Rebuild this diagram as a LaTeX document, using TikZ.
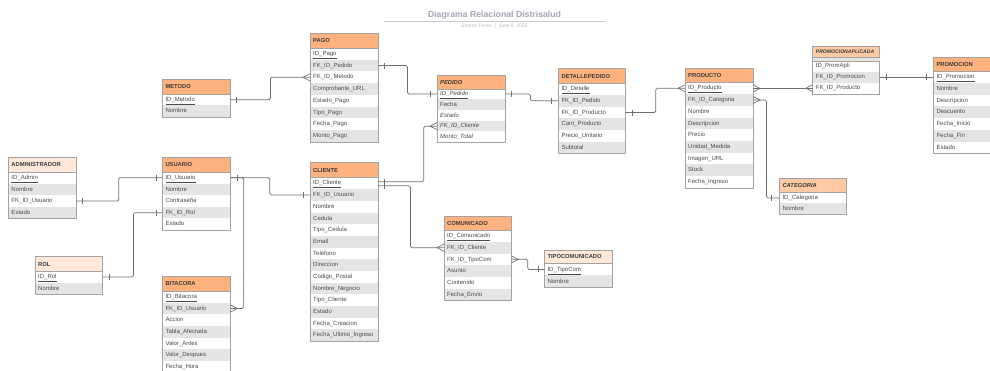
\documentclass[tikz,border=0pt]{standalone}
\usepackage{fontspec}
\setmainfont{Liberation Sans}
\definecolor{hdrorange}{HTML}{FFB27E}
\definecolor{hdrpale}{HTML}{FFE8D9}
\definecolor{hdrpeach}{HTML}{FFC9A3}
\definecolor{rowgray}{HTML}{E4E4E4}
\definecolor{bordergray}{HTML}{A3A3A3}
\definecolor{linegray}{HTML}{707070}
\definecolor{txtdark}{HTML}{3A3A3A}
\definecolor{txtrow}{HTML}{4A4A4A}
\definecolor{titlegray}{HTML}{A4A7B2}
\definecolor{subgray}{HTML}{B8B8B8}

\tikzset{
  hdr/.style={draw=none, fill=hdrorange, inner xsep=3pt, inner ysep=0pt, text=txtdark,
    font=\fontsize{5.8}{6.5}\selectfont\bfseries, text height=4.3pt, text depth=0.4pt},
  rowbox/.style={draw=none, inner xsep=3pt, inner ysep=0pt, text=txtrow,
    font=\fontsize{6}{7}\selectfont, text height=4.5pt, text depth=1.2pt},
  tableline/.style={draw=bordergray, line width=0.6pt},
  rel/.style={draw=linegray, line width=0.75pt, rounded corners=1.5pt},
  relmark/.style={draw=linegray, line width=0.7pt},
  titletext/.style={text=titlegray, font=\fontsize{8.7}{10}\selectfont\bfseries, inner sep=0pt},
  subtext/.style={text=subgray, font=\fontsize{5}{6}\selectfont, inner sep=0pt},
}

% \erTable{name}{x}{y}{width}{header height}{row height}{header style}{header text}{rows}
\newcommand{\erTable}[9]{%
  \pgfmathsetmacro\erTW{#4-6}%
  \node[hdr,#7,minimum width=#4,minimum height=#5,text width=\erTW pt,anchor=north west] (#1) at (#2,#3) {#8};
  \foreach \txt [count=\i] in {#9} {%
    \pgfmathsetmacro\rowy{#3+#5+(\i-1)*#6}%
    \ifodd\i\relax\def\rowfill{white}\else\def\rowfill{rowgray}\fi
    \node[rowbox,fill=\rowfill,minimum width=#4,minimum height=#6,text width=\erTW pt,anchor=north west] (#1-\i) at (#2,\rowy) {\txt};
    \xdef\lastrow{\i}%
  }%
  \draw[tableline] (#1.south west) -- (#1.south east);
  \draw[tableline] (#1.north west) rectangle (#1-\lastrow.south east);
}
% single bar across a connector, #2 = horizontal offset from the anchor
\newcommand{\barAt}[2]{\draw[relmark] ([xshift=#2,yshift=3]#1) -- ([xshift=#2,yshift=-3]#1);}
% crow's foot touching the anchor, #2 = offset of its apex
\newcommand{\crowAt}[2]{\draw[relmark] ([yshift=3.5]#1) -- ([xshift=#2]#1) -- ([yshift=-3.5]#1);}

\begin{document}
\begin{tikzpicture}[x=1pt,y=-1pt]
\useasboundingbox (0,0) rectangle (990,371);
\clip (0,0) rectangle (990,371);
\fill[white] (0,0) rectangle (990,371);

% title block
\node[titletext] (title) at (494.5,15) {Diagrama Relacional Distrisalud};
\draw[draw=titlegray!60, line width=0.6pt] (384,21.3) -- (605,21.3);
\node[subtext] (subtitle) at (494.5,26.7) {Sharon Perez \ | \ June 9, 2025};

% tables
\erTable{metodo}{162.3}{79}{67.7}{15}{11.3}{}{METODO}
  {\underline{ID\_Metodo}, Nombre}

\erTable{pago}{310}{33}{68}{14.7}{11.75}{}{PAGO}
  {\underline{ID\_Pago}, FK\_ID\_Pedido, FK\_ID\_Metodo, Comprobante\_URL, Estado\_Pago, Tipo\_Pago, Fecha\_Pago, Monto\_Pago}

\erTable{pedido}{437}{75.5}{68}{13}{10.7}{}{\textit{PEDIDO}}
  {\underline{\textit{ID\_Pedido}}, Fecha, \textit{Estado}, \textit{FK\_ID\_Cliente}, \textit{Monto\_Total}}

\erTable{detalle}{558.3}{68.7}{67}{14.4}{11.7}{}{DETALLEPEDIDO}
  {\underline{ID\_Detalle}, FK\_ID\_Pedido, FK\_ID\_Producto, Cant\_Producto, Precio\_Unitario, Subtotal}

\erTable{producto}{685}{68.3}{67.7}{14}{11.7}{}{PRODUCTO}
  {\underline{ID\_Producto}, FK\_ID\_Categoria, Nombre, Descripcion, Precio, Unidad\_Medida, Imagen\_URL, Stock, Fecha\_Ingreso}

\erTable{promoapli}{812.7}{46.5}{66.6}{14}{11}{fill=hdrpeach,font=\fontsize{5.1}{6}\selectfont\bfseries\itshape}{\raisebox{2pt}{PROMOCIONAPLICADA}}
  {ID\_PromApli, FK\_ID\_Promocion, FK\_ID\_Producto}
\fill[rowgray] ([yshift=4]promoapli.south west) rectangle (promoapli.south east);
\draw[tableline] ([yshift=4]promoapli.south west) -- ([yshift=4]promoapli.south east);

\erTable{promocion}{933.3}{57.7}{67}{13.5}{11.7}{}{PROMOCION}
  {\underline{ID\_Promocion}, Nombre, Descripcion, Descuento, Fecha\_Inicio, Fecha\_Fin, Estado}

\erTable{admin}{8.3}{157.3}{67.4}{14.4}{11.65}{fill=hdrpale}{ADMINISTRADOR}
  {\underline{ID\_Admin}, Nombre, FK\_ID\_Usuario, Estado}

\erTable{usuario}{162.3}{157.3}{67.7}{14.4}{11.65}{}{USUARIO}
  {\underline{ID\_Usuario}, Nombre, Contraseña, FK\_ID\_Rol, Estado}

\erTable{rol}{35}{256.7}{67.3}{14.3}{11.5}{fill=hdrpale}{ROL}
  {\underline{ID\_Rol}, Nombre}

\erTable{bitacora}{162.3}{276.7}{67.7}{14}{11.7}{}{BITACORA}
  {\underline{ID\_Bitacora}, FK\_ID\_Usuario, Accion, Tabla\_Afectada, Valor\_Antes, Valor\_Despues, Fecha\_Hora}

\erTable{cliente}{310}{162.7}{67.7}{14.6}{11.69}{}{CLIENTE}
  {\underline{ID\_Cliente}, FK\_ID\_Usuario, Nombre, Cedula, Tipo\_Cedula, Email, Telefono, Direccion, Codigo\_Postal, Nombre\_Negocio, Tipo\_Cliente, Estado, Fecha\_Creacion, Fecha\_Ultimo\_Ingreso}

\erTable{comunicado}{444}{216}{67}{14}{11.67}{}{COMUNICADO}
  {\underline{ID\_Comunicado}, FK\_ID\_Cliente, FK\_ID\_TipoCom, Asunto, Contenido, Fecha\_Envio}

\erTable{tipocom}{544.3}{250}{67.7}{13.3}{12}{fill=hdrpale}{TIPOCOMUNICADO}
  {\underline{ID\_TipoCom}, Nombre}

\erTable{categoria}{779.3}{178.3}{66.7}{14}{11}{fill=hdrpeach}{\textit{CATEGORIA}}
  {ID\_Categoria, Nombre}

% relationships
\draw[rel] (metodo-1.east) -- ([xshift=40]metodo-1.east) |- (pago-3.west);
\barAt{metodo-1.east}{6}
\crowAt{pago-3.west}{-7}

\draw[rel] (pago-2.east) -- ([xshift=29]pago-2.east) |- (pedido-1.west);
\barAt{pago-2.east}{5.5}
\barAt{pedido-1.west}{-6.5}

\draw[rel] (pedido-1.east) -- ([xshift=25]pedido-1.east) |- (detalle-2.west);
\barAt{pedido-1.east}{5.5}
\barAt{detalle-2.west}{-7}

\draw[rel] (detalle-3.east) -- ([xshift=30]detalle-3.east) |- (producto-1.west);
\barAt{detalle-3.east}{6.4}
\crowAt{producto-1.west}{-7}

\draw[rel] (producto-1.east) -- (producto-1.east -| promoapli-3.west);
\crowAt{producto-1.east}{7}
\crowAt{promoapli-3.west}{-7}

\draw[rel] (promoapli-2.east) -- (promoapli-2.east -| promocion-1.west);
\barAt{promoapli-2.east}{6.7}
\barAt{promocion-1.west}{-7}

\draw[rel] (producto-2.east) -- ([xshift=13.3]producto-2.east) |- (categoria-1.west);
\crowAt{producto-2.east}{7}
\barAt{categoria-1.west}{-7.5}

\draw[rel] (admin-3.east) -- ([xshift=42.6]admin-3.east) |- (usuario-1.west);
\barAt{admin-3.east}{6.3}
\barAt{usuario-1.west}{-6.3}

\draw[rel] (rol-1.east) -- ([xshift=30.7]rol-1.east) |- (usuario-4.west);
\barAt{rol-1.east}{6.7}
\barAt{usuario-4.west}{-6.3}

\draw[rel] (usuario-1.east) -- ([xshift=39.3]usuario-1.east) |- (cliente-2.west);
\barAt{usuario-1.east}{6.7}
\barAt{cliente-2.west}{-6.7}

\draw[rel] (usuario-1.east) -- ([xshift=13.3]usuario-1.east) |- (bitacora-2.east);
\crowAt{bitacora-2.east}{7}

\draw[rel] ([yshift=1.5]cliente-1.east) -- ([xshift=45.6,yshift=1.5]cliente-1.east) |- (pedido-4.west);
\crowAt{pedido-4.west}{-7}
\draw[rel] ([yshift=-2.5]cliente-1.east) -- ([xshift=32.3,yshift=-2.5]cliente-1.east) |- (comunicado-2.west);
\crowAt{comunicado-2.west}{-7}
\draw[relmark] ([xshift=6.3,yshift=4]cliente-1.east) -- ([xshift=6.3,yshift=-6]cliente-1.east);

\draw[rel] (comunicado-3.east) -- ([xshift=16.3]comunicado-3.east) |- (tipocom-1.west);
\crowAt{comunicado-3.east}{7}
\barAt{tipocom-1.west}{-6}
\end{tikzpicture}
\end{document}
